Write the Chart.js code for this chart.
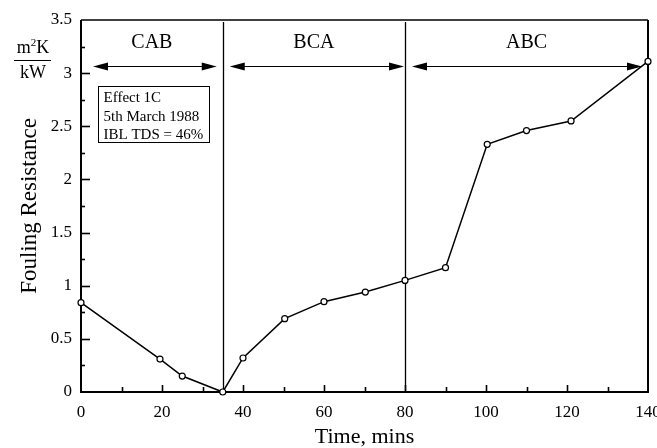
<!DOCTYPE html>
<html>
<head>
<meta charset="utf-8">
<script src="https://cdn.jsdelivr.net/npm/chart.js@4.4.1/dist/chart.umd.min.js"></script>
<style>
  html, body { margin: 0; padding: 0; background: #fff; }
  canvas { display: block; }
</style>
</head>
<body>
<canvas id="c" width="657" height="448"></canvas>
<script>
// ---- data ----
const timeMins = [0, 19.5, 25, 35, 40, 50.3, 60, 70.2, 80, 90, 100.3, 110, 121, 140];
const foulingResistance = [0.84, 0.31, 0.15, 0, 0.32, 0.69, 0.85, 0.94, 1.05, 1.17, 2.33, 2.46, 2.55, 3.11];
const phaseBounds = [0, 35, 80, 140];
const phaseNames = ['CAB', 'BCA', 'ABC'];
const noteLines = ['Effect 1C', '5th March 1988', 'IBL TDS = 46%'];
const xTitle = 'Time, mins';
const yTitle = 'Fouling Resistance';

const SERIF = '"Liberation Serif", "DejaVu Serif", serif';

const points = timeMins.map((t, i) => ({ x: t, y: foulingResistance[i] }));

const decor = {
  id: 'decor',
  beforeDatasetsDraw(chart) {
    const ctx = chart.ctx;
    const a = chart.chartArea;
    const xs = chart.scales.x, ys = chart.scales.y;
    ctx.save();
    ctx.strokeStyle = '#000';
    ctx.fillStyle = '#000';
    ctx.lineCap = 'butt';

    // frame
    ctx.lineWidth = 2;
    ctx.beginPath();
    ctx.moveTo(a.left, a.top); ctx.lineTo(a.left, a.bottom); ctx.lineTo(a.right, a.bottom); ctx.lineTo(a.right, a.top);
    ctx.stroke();
    ctx.lineWidth = 1.5;
    ctx.beginPath(); ctx.moveTo(a.left, a.top); ctx.lineTo(a.right, a.top); ctx.stroke();

    // inward ticks
    ctx.lineWidth = 1.6;
    for (let v = 0.25; v < 3.5; v += 0.25) {
      const y = Math.round(ys.getPixelForValue(v)) + 0.5;
      const major = Math.abs(v * 2 - Math.round(v * 2)) < 1e-6;
      ctx.beginPath(); ctx.moveTo(a.left, y); ctx.lineTo(a.left + (major ? 9 : 4), y); ctx.stroke();
    }
    for (let v = 10; v < 140; v += 10) {
      const x = Math.round(xs.getPixelForValue(v)) + 0.5;
      const major = v % 20 === 0;
      ctx.beginPath(); ctx.moveTo(x, a.bottom); ctx.lineTo(x, a.bottom - (major ? 7 : 5)); ctx.stroke();
    }

    // phase separators
    ctx.lineWidth = 1.3;
    for (let i = 1; i < phaseBounds.length - 1; i++) {
      const x = Math.round(xs.getPixelForValue(phaseBounds[i])) + 0.5;
      ctx.beginPath(); ctx.moveTo(x, a.top + 2); ctx.lineTo(x, a.bottom); ctx.stroke();
    }

    // phase arrows and names
    const ay = Math.round(ys.getPixelForValue(3.07)) + 0.5;
    const ly = ys.getPixelForValue(3.29);
    ctx.font = '20px ' + SERIF;
    ctx.textAlign = 'center';
    ctx.textBaseline = 'middle';
    for (let i = 0; i < phaseNames.length; i++) {
      const x0 = xs.getPixelForValue(phaseBounds[i]) + (i === 0 ? 12 : 7);
      const x1 = xs.getPixelForValue(phaseBounds[i + 1]) - (i === 1 ? 1 : 6);
      ctx.lineWidth = 1;
      ctx.beginPath(); ctx.moveTo(x0 + 10, ay); ctx.lineTo(x1 - 10, ay); ctx.stroke();
      ctx.beginPath(); ctx.moveTo(x0, ay); ctx.lineTo(x0 + 15, ay - 4); ctx.lineTo(x0 + 15, ay + 4); ctx.closePath(); ctx.fill();
      ctx.beginPath(); ctx.moveTo(x1, ay); ctx.lineTo(x1 - 15, ay - 4); ctx.lineTo(x1 - 15, ay + 4); ctx.closePath(); ctx.fill();
      const cx = xs.getPixelForValue((phaseBounds[i] + phaseBounds[i + 1]) / 2);
      ctx.fillText(phaseNames[i], cx, ly);
    }

    // note box
    const bx0 = Math.round(xs.getPixelForValue(4.1)) + 0.5, bx1 = Math.round(xs.getPixelForValue(31.7)) + 0.5;
    const by0 = Math.round(ys.getPixelForValue(2.88)) + 0.5, by1 = Math.round(ys.getPixelForValue(2.35)) + 0.5;
    ctx.lineWidth = 1;
    ctx.strokeRect(bx0, by0, bx1 - bx0, by1 - by0);
    ctx.font = '15px ' + SERIF;
    ctx.textAlign = 'left';
    const noteY = [2.77, 2.585, 2.415];
    noteLines.forEach((t, i) => ctx.fillText(t, bx0 + 5, ys.getPixelForValue(noteY[i])));

    // unit label (m^2K / kW)
    const ux = a.left - 48;
    ctx.font = '18px ' + SERIF;
    ctx.textAlign = 'left';
    const wm = ctx.measureText('m').width;
    ctx.font = '11px ' + SERIF;
    const w2 = ctx.measureText('2').width;
    ctx.font = '18px ' + SERIF;
    const wk = ctx.measureText('K').width;
    const total = wm + w2 + wk;
    const uy = ys.getPixelForValue(3.23);
    let sx = ux - total / 2;
    ctx.fillText('m', sx, uy);
    ctx.font = '11px ' + SERIF;
    ctx.fillText('2', sx + wm, uy - 6);
    ctx.font = '18px ' + SERIF;
    ctx.fillText('K', sx + wm + w2, uy);
    const fy = Math.round(ys.getPixelForValue(3.125)) + 0.5;
    ctx.lineWidth = 1.2;
    ctx.beginPath(); ctx.moveTo(ux - 19, fy); ctx.lineTo(ux + 18, fy); ctx.stroke();
    ctx.textAlign = 'center';
    ctx.fillText('kW', ux, ys.getPixelForValue(3.0));
    ctx.restore();
  }
};

new Chart(document.getElementById('c'), {
  type: 'line',
  data: {
    datasets: [{
      data: points,
      borderColor: '#000',
      borderWidth: 1.5,
      backgroundColor: '#fff',
      pointRadius: 3,
      pointBorderWidth: 1.2,
      pointBorderColor: '#000',
      pointBackgroundColor: '#fff',
      tension: 0,
      clip: false
    }]
  },
  options: {
    responsive: false,
    devicePixelRatio: 1,
    animation: false,
    events: [],
    plugins: { legend: { display: false }, tooltip: { enabled: false } },
    layout: { padding: { top: 20, right: 9, left: 0, bottom: 0 } },
    scales: {
      x: {
        type: 'linear', min: 0, max: 140,
        grid: { display: false, drawTicks: false },
        border: { display: false },
        ticks: { stepSize: 20, color: '#000', padding: 10, maxRotation: 0, font: { family: SERIF, size: 17 } },
        title: { display: true, text: xTitle, color: '#000', padding: { top: 0, bottom: -2 }, font: { family: SERIF, size: 22 } },
        afterFit(s) { s.height = 56; s.paddingLeft = 0; s.paddingRight = 0; }
      },
      y: {
        min: 0, max: 3.5,
        grid: { display: false, drawTicks: false },
        border: { display: false },
        ticks: { stepSize: 0.5, color: '#000', padding: 9, font: { family: SERIF, size: 17 }, callback: v => String(v) },
        title: { display: true, text: yTitle, color: '#000', padding: { top: 16, bottom: 0 }, font: { family: SERIF, size: 23 } },
        afterFit(s) { s.width = 81; s.paddingTop = 0; s.paddingBottom = 0; }
      }
    }
  },
  plugins: [decor]
});
</script>
</body>
</html>
